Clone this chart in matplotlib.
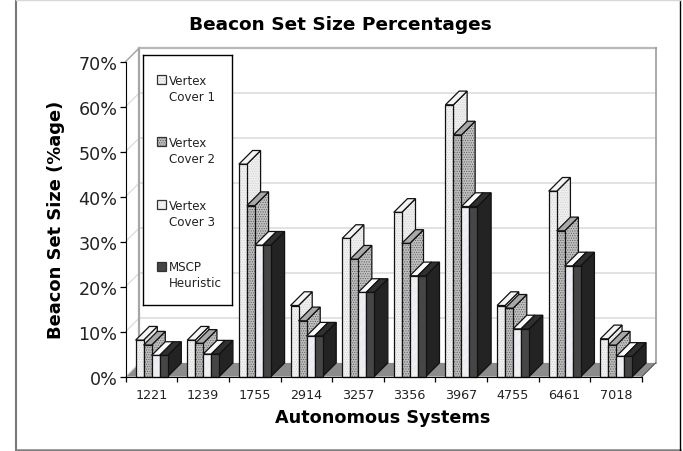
#!/usr/bin/env python3
import matplotlib
matplotlib.use('Agg')
import matplotlib.pyplot as plt
from matplotlib.lines import Line2D
from matplotlib.patches import Polygon, Rectangle

systems = ['1221', '1239', '1755', '2914', '3257', '3356', '3967', '4755', '6461', '7018']
series_names = ['Vertex\nCover 1', 'Vertex\nCover 2', 'Vertex\nCover 3', 'MSCP\nHeuristic']
vertex_cover_1 = [8.1, 8.1, 47.2, 15.8, 30.7, 36.5, 60.4, 15.8, 41.2, 8.4]
vertex_cover_2 = [7.0, 7.4, 38.0, 12.4, 26.1, 29.6, 53.7, 15.2, 32.4, 7.0]
vertex_cover_3 = [4.7, 5.0, 29.2, 9.0, 18.7, 22.4, 37.8, 10.6, 24.6, 4.5]
mscp_heuristic = [4.7, 5.0, 29.2, 9.0, 18.7, 22.4, 37.8, 10.6, 24.6, 4.5]
y_ticks = [0, 10, 20, 30, 40, 50, 60, 70]

W, H = 683, 452
X0, X_UNIT = 125.6, 51.64   # pixel of the first category edge, pixels per category
Y0, Y_UNIT = 377.6, 4.5     # pixel of 0%, pixels per percent
DX, DY = 13.7 / X_UNIT, 13.7 / Y_UNIT   # 3D depth offset in data units
BAR_W = 8.0 / X_UNIT
BAR_START = 10.0 / X_UNIT

# front, top, side colours plus hatch and hatch colour for each series
styles = [
    dict(front='#f2f2f2', top='#f4f4f4', side='#efefef', hatch='.......', ink='#cfcfcf'),
    dict(front='#bcbcbc', top='#a8a8a8', side='#c0c0c0', hatch='.......', ink='#5e5e5e'),
    dict(front='#ecedf0', top='#fafafa', side='#e4e4e6', hatch='///', ink='#f8f8f8'),
    dict(front='#464646', top='#303030', side='#232323', hatch=None, ink='#464646'),
]

plt.rcParams['font.family'] = 'DejaVu Sans'
plt.rcParams['hatch.linewidth'] = 0.5

fig = plt.figure(figsize=(W / 100, H / 100), dpi=100)
ax = fig.add_axes([0, 0, 1, 1])
ax.set_xlim(-X0 / X_UNIT, (W - X0) / X_UNIT)
ax.set_ylim(-(H - Y0) / Y_UNIT, Y0 / Y_UNIT)
ax.patch.set_visible(False)


def shape(axis, pts, color, hatch=None, ink=None, z=3, edge='#111111', lw=0.9):
    if hatch:
        axis.add_patch(Polygon(pts, facecolor=color, edgecolor=ink, hatch=hatch, lw=0, zorder=z))
        axis.add_patch(Polygon(pts, fill=False, edgecolor=edge, lw=lw, zorder=z))
    else:
        axis.add_patch(Polygon(pts, facecolor=color, edgecolor=edge, lw=lw, zorder=z))


def draw_bar(x, value, st, z):
    x2 = x + BAR_W
    shape(ax, [(x2, 0), (x2 + DX, DY), (x2 + DX, value + DY), (x2, value)], st['side'], st['hatch'], st['ink'], z)
    shape(ax, [(x, value), (x2, value), (x2 + DX, value + DY), (x + DX, value + DY)], st['top'], None, None, z)
    shape(ax, [(x, 0), (x2, 0), (x2, value), (x, value)], st['front'], st['hatch'], st['ink'], z)


# floor and walls
top = 70 + DY
ax.add_patch(Polygon([(0, 0), (10, 0), (10 + DX, DY), (DX, DY)], facecolor='#8c8c8c', edgecolor='none', zorder=1))
for t in y_ticks[1:-1]:
    ax.plot([DX, 10 + DX], [t + DY, t + DY], color='#e2e2e2', lw=1.4, zorder=1)
for t in y_ticks:
    ax.plot([0, DX], [t, t + DY], color='#dcdcdc', lw=0.9, zorder=1)
ax.plot([DX, DX], [DY, top], color='#a6a6a6', lw=1.6, zorder=1)
ax.plot([DX, 10 + DX], [top, top], color='#b8b8b8', lw=1.6, zorder=1)
ax.plot([10 + DX, 10 + DX], [DY, top], color='#9c9c9c', lw=1.2, zorder=1)
ax.plot([0, DX], [70, top], color='#a6a6a6', lw=1.0, zorder=1)
ax.plot([10, 10 + DX], [0, DY], color='#555555', lw=0.8, zorder=1)

# bars, left to right so each one hides the side of the one before
all_series = [vertex_cover_1, vertex_cover_2, vertex_cover_3, mscp_heuristic]
z = 3
for i in range(len(systems)):
    for j, values in enumerate(all_series):
        draw_bar(i + BAR_START + j * BAR_W, values[i], styles[j], z)
        z += 1

# axes
for name in ['top', 'right']:
    ax.spines[name].set_visible(False)
ax.spines['left'].set_position(('data', 0))
ax.spines['bottom'].set_position(('data', 0))
ax.spines['left'].set_bounds(0, 70)
ax.spines['bottom'].set_bounds(0, 10)
ax.spines['left'].set_zorder(200)
ax.spines['bottom'].set_zorder(200)
ax.set_yticks(y_ticks)
ax.set_yticklabels([f'{t}%' for t in y_ticks], fontsize=12.6, color='#222222')
ax.tick_params(axis='y', length=4, width=0.9, pad=2)
ax.set_xticks(range(len(systems) + 1))
ax.set_xticklabels([])
ax.tick_params(axis='x', length=3.6, width=0.9)
ax.set_xticks([i + 0.5 for i in range(len(systems))], minor=True)
ax.set_xticklabels(systems, minor=True, fontsize=9.2, color='#222222')
ax.tick_params(axis='x', which='minor', length=0, pad=8)

fig.text(340 / W, 1 - 25 / H, 'Beacon Set Size Percentages', fontsize=13.3, fontweight='bold', ha='center', va='center')
fig.text(383 / W, 1 - 418 / H, 'Autonomous Systems', fontsize=12.7, fontweight='bold', ha='center', va='center')
fig.text(56 / W, 1 - 219.5 / H, 'Beacon Set Size (%age)', fontsize=12.9, fontweight='bold', rotation=90, ha='center', va='center')

# legend box, laid out in its own pixel coordinates
lg = fig.add_axes([142.7 / W, 1 - 306 / H, 89.6 / W, 249.7 / H], zorder=5)
lg.set_xlim(142.7, 232.3)
lg.set_ylim(306, 56.3)
lg.set_xticks([])
lg.set_yticks([])
for sp in lg.spines.values():
    sp.set_linewidth(1.0)
legend_y = [80.5, 142.7, 205.5, 267.0]
for name, st, y in zip(series_names, styles, legend_y):
    lg.add_patch(Rectangle((156.7, y - 4.5), 9, 9, facecolor=st['front'], edgecolor='none', hatch=None))
    if st['hatch']:
        lg.add_patch(Rectangle((156.7, y - 4.5), 9, 9, facecolor='none', edgecolor=st['ink'], hatch=st['hatch'], lw=0))
    lg.add_patch(Rectangle((156.7, y - 4.5), 9, 9, fill=False, edgecolor='#333333', lw=0.9))
    lg.text(169, y - 5.5, name, fontsize=8.6, color='#222222', va='top', ha='left', linespacing=1.3)

# outer frame of the figure
frame = [
    ([16, 16], [0, 451], '#777777', 1.5),
    ([16, 679.5], [450.7, 450.7], '#808080', 1.8),
    ([679.5, 679.5], [0, 451], '#000000', 1.0),
    ([16, 679.5], [0.5, 0.5], '#d8d8d8', 1.0),
]
for xs, ys, col, lw in frame:
    fig.add_artist(Line2D([x / W for x in xs], [1 - y / H for y in ys], color=col, lw=lw))

plt.savefig('out.png', dpi=100)
